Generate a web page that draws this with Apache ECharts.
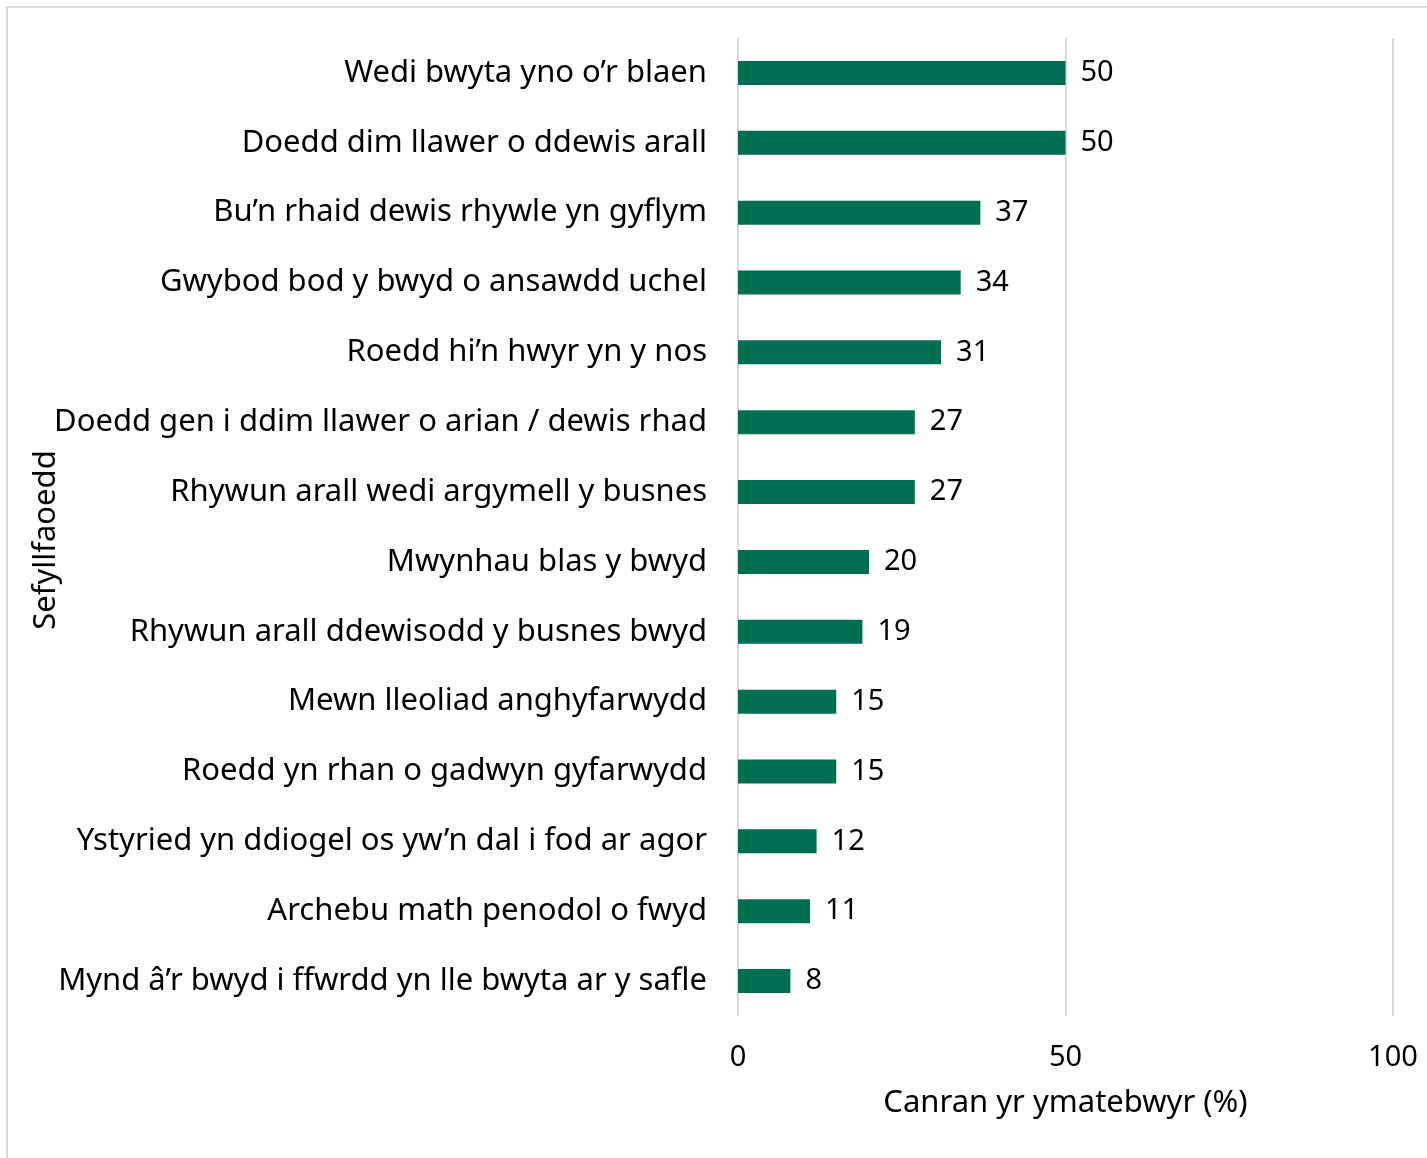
<!DOCTYPE html>
<html>
<head>
<meta charset="utf-8">
<script src="https://cdn.jsdelivr.net/npm/echarts@6/dist/echarts.min.js"></script>
<style>
html,body{margin:0;padding:0;background:#fff;}
#chart{width:1427px;height:1158px;}
</style>
</head>
<body>
<div id="chart"></div>
<script>
const categories = [
  "Wedi bwyta yno o’r blaen",
  "Doedd dim llawer o ddewis arall",
  "Bu’n rhaid dewis rhywle yn gyflym",
  "Gwybod bod y bwyd o ansawdd uchel",
  "Roedd hi’n hwyr yn y nos",
  "Doedd gen i ddim llawer o arian / dewis rhad",
  "Rhywun arall wedi argymell y busnes",
  "Mwynhau blas y bwyd",
  "Rhywun arall ddewisodd y busnes bwyd",
  "Mewn lleoliad anghyfarwydd",
  "Roedd yn rhan o gadwyn gyfarwydd",
  "Ystyried yn ddiogel os yw’n dal i fod ar agor",
  "Archebu math penodol o fwyd",
  "Mynd â’r bwyd i ffwrdd yn lle bwyta ar y safle"
];
const values = [50, 50, 37, 34, 31, 27, 27, 20, 19, 15, 15, 12, 11, 8];
const xTicks = [0, 50, 100];
const xAxisName = "Canran yr ymatebwyr (%)";
const yAxisName = "Sefyllfaoedd";

const FONT = "Noto Sans";
const chart = echarts.init(document.getElementById('chart'), null, {renderer: 'canvas'});
chart.setOption({
  animation: false,
  backgroundColor: '#ffffff',
  textStyle: {fontFamily: FONT},
  graphic: [{
    type: 'rect', silent: true, z: -10,
    shape: {x: 7, y: 7, width: 1440, height: 1170},
    style: {fill: 'none', stroke: '#d9d9d9', lineWidth: 2}
  }],
  grid: {left: 738, right: 34, top: 38, bottom: 142, containLabel: false},
  xAxis: {
    type: 'value', min: xTicks[0], max: xTicks[xTicks.length - 1], interval: 50,
    axisLine: {show: false}, axisTick: {show: false},
    splitLine: {show: true, lineStyle: {color: '#d9d9d9', width: 2}},
    axisLabel: {color: '#000', fontSize: 29, fontFamily: FONT, margin: 27},
    name: xAxisName, nameLocation: 'middle', nameGap: 72, nameMoveOverlap: false,
    nameTextStyle: {color: '#000', fontSize: 31, fontFamily: FONT}
  },
  yAxis: {
    type: 'category', data: categories, inverse: true,
    axisLine: {show: false}, axisTick: {show: false}, splitLine: {show: false},
    axisLabel: {color: '#000', fontSize: 31, fontFamily: FONT, margin: 31, padding: [4, 0, 0, 0]},
    name: yAxisName, nameLocation: 'middle', nameGap: 676, nameRotate: 90, nameMoveOverlap: false,
    nameTextStyle: {color: '#000', fontSize: 31, fontFamily: FONT, padding: [0, 26, 0, 0]}
  },
  series: [{
    type: 'bar', data: values, barWidth: 24,
    itemStyle: {color: '#006f51'},
    label: {show: true, position: 'right', distance: 15, color: '#000', fontSize: 29, fontFamily: FONT, padding: [4, 0, 0, 0]}
  }]
});
</script>
</body>
</html>
